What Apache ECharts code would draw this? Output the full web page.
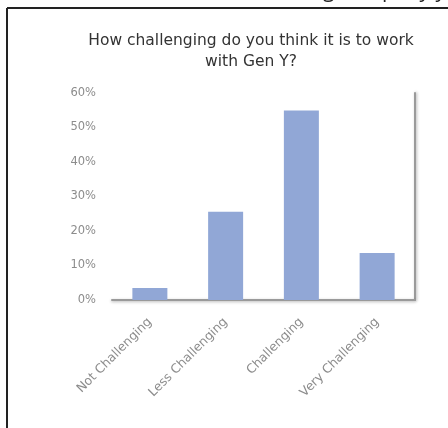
<!DOCTYPE html>
<html>
<head>
<meta charset="utf-8">
<script src="https://cdn.jsdelivr.net/npm/echarts@6/dist/echarts.min.js"></script>
<style>
  html, body { margin: 0; padding: 0; background: #ffffff; }
  #chart { width: 448px; height: 428px; }
</style>
</head>
<body>
<div id="chart"></div>
<script>
// Survey responses: share of respondents per answer
const categories = ['Not Challenging', 'Less Challenging', 'Challenging', 'Very Challenging'];
const shares = [3.5, 25.6, 54.9, 13.6];
const yTicks = [0, 10, 20, 30, 40, 50, 60];

const chart = echarts.init(document.getElementById('chart'), null, { renderer: 'canvas' });

const labelFont = 'DejaVu Sans';

chart.setOption({
  backgroundColor: '#ffffff',
  animation: false,
  title: {
    text: 'How challenging do you think it is to work\nwith Gen Y?',
    left: 246,
    top: 25,
    textAlign: 'center',
    textStyle: {
      fontFamily: labelFont,
      fontSize: 15.5,
      fontWeight: 'normal',
      color: '#333333',
      lineHeight: 21
    }
  },
  graphic: [
    // frame around the chart area
    { type: 'line', shape: { x1: 7, y1: 8, x2: 448, y2: 8 }, style: { stroke: '#222', lineWidth: 2 } },
    { type: 'line', shape: { x1: 7, y1: 8, x2: 7, y2: 428 }, style: { stroke: '#222', lineWidth: 2 } },
    // tail of the preceding page text
    { type: 'text', right: 2, top: -19.5, style: { text: 'ing company y', font: '21px "Open Sans"', fill: '#222' } }
  ],
  grid: { left: 112, right: 33, top: 93, bottom: 128 },
  xAxis: {
    type: 'category',
    data: categories,
    axisLine: { show: true, lineStyle: { color: '#9a9a9a', width: 2, shadowColor: 'rgba(0,0,0,0.3)', shadowBlur: 3, shadowOffsetY: 1 } },
    axisTick: { show: false },
    axisLabel: {
      rotate: 45,
      interval: 0,
      margin: 20,
      color: '#8c8c8c',
      fontFamily: labelFont,
      fontSize: 12.5
    }
  },
  yAxis: [
    {
      type: 'value',
      min: yTicks[0],
      max: yTicks[yTicks.length - 1],
      interval: 10,
      axisLine: { show: false },
      axisTick: { show: false },
      splitLine: { show: false },
      axisLabel: {
        formatter: '{value}%',
        color: '#8c8c8c',
        fontFamily: labelFont,
        fontSize: 11.5,
        margin: 16
      }
    },
    {
      type: 'value',
      position: 'right',
      min: yTicks[0],
      max: yTicks[yTicks.length - 1],
      interval: 10,
      axisLine: { show: true, lineStyle: { color: '#9a9a9a', width: 2, shadowColor: 'rgba(0,0,0,0.3)', shadowBlur: 3, shadowOffsetX: 1 } },
      axisTick: { show: false },
      axisLabel: { show: false },
      splitLine: { show: false }
    }
  ],
  series: [
    {
      type: 'bar',
      data: shares,
      barWidth: 35,
      itemStyle: { color: '#91a7d6' }
    }
  ]
});
</script>
</body>
</html>
